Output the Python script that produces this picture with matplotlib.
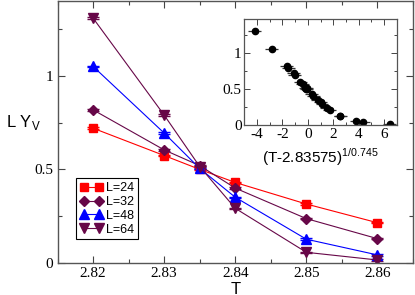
import numpy as np
import matplotlib
matplotlib.use("Agg")
import matplotlib.pyplot as plt
from matplotlib.ticker import MultipleLocator

## temperatures and the four system sizes
temps = [2.82, 2.83, 2.835, 2.84, 2.85, 2.86]
sizes = [24, 32, 48, 64]

## L*Y_v
y_24 = [0.72, 0.574, 0.500, 0.430, 0.315, 0.215]
y_32 = [0.818, 0.604, 0.520, 0.400, 0.237, 0.130]
y_48 = [1.050, 0.694, 0.505, 0.351, 0.127, 0.043]
y_64 = [1.308, 0.790, 0.515, 0.292, 0.057, 0.016]

## scaling parameters from the inset label
tc = 2.83575
nu = 0.745

labels = ["L=24", "L=32", "L=48", "L=64"]
series = [y_24, y_32, y_48, y_64]
colors = ["#ff0000", "#670748", "#0000ff", "#670748"]
markers = ["s", "D", "^", "v"]
msizes = [6, 5.5, 6.5, 6.5]

serif = "Liberation Serif"
sans = "Liberation Sans"

fig = plt.figure(figsize=(4.15, 2.95), dpi=100)
ax = fig.add_axes([0.1386, 0.1085, 0.8566, 0.8885])

for L, y, c, m, ms, lab in zip(sizes, series, colors, markers, msizes, labels):
   ax.errorbar(temps, y, yerr=0.004, color=c, ecolor=c, elinewidth=0.6,
               capsize=4, capthick=1.0, lw=0.8, marker=m, ms=ms,
               mec=c, mfc=c, label=lab)

ax.set_xlim(2.815, 2.865)
ax.set_ylim(0, 1.4)
ax.xaxis.set_minor_locator(MultipleLocator(0.005))
ax.yaxis.set_minor_locator(MultipleLocator(0.25))
ax.set_xticks([2.82, 2.83, 2.84, 2.85, 2.86])
ax.set_xticklabels(["2.82", "2.83", "2.84", "2.85", "2.86"])
ax.set_yticks([0, 0.5, 1])
ax.set_yticklabels(["0", "0.5", "1"])
ax.tick_params(which="both", direction="in", top=True, right=True,
               colors="#444444", labelcolor="black")
ax.tick_params(which="major", length=5, width=0.8, labelsize=11, pad=3)
ax.tick_params(which="minor", length=3, width=0.8)
for t in ax.get_xticklabels() + ax.get_yticklabels():
   t.set_family(serif)
for s in ax.spines.values():
   s.set_color("#555555")
   s.set_linewidth(1.0)

ax.set_xlabel("T", family=sans, fontsize=12, labelpad=1)
ax.set_ylabel(r"L Y$_\mathregular{V}$", family=sans, fontsize=12,
              rotation=0)
ax.yaxis.set_label_coords(-0.095, 0.5)

handles, labs = ax.get_legend_handles_labels()
handles = [h[0] for h in handles]
leg = ax.legend(handles, labs, loc="lower left", bbox_to_anchor=(0.052, 0.09),
                borderaxespad=0, numpoints=2, handlelength=1.8,
                handletextpad=0.3, labelspacing=0.15, borderpad=0.3,
                fancybox=False, framealpha=1, edgecolor="black",
                prop={"family": sans, "size": 9})
leg.get_frame().set_linewidth(0.8)

## inset with the scaling collapse
ins = fig.add_axes([0.5887, 0.5763, 0.3672, 0.3583])
for L, y in zip(sizes, series):
   x = (np.array(temps) - tc) * L ** (1.0 / nu)
   ins.errorbar(x, y, xerr=0.5, fmt="o", color="black", ms=4.5,
                ecolor="#333333", elinewidth=0.9, capsize=0)
ins.set_xlim(-5, 7)
ins.set_ylim(0, 1.47)
ins.xaxis.set_minor_locator(MultipleLocator(1))
ins.yaxis.set_minor_locator(MultipleLocator(0.25))
ins.set_xticks([-4, -2, 0, 2, 4, 6])
ins.set_xticklabels(["-4", "-2", "0", "2", "4", "6"])
ins.set_yticks([0, 0.5, 1])
ins.set_yticklabels(["0", "0.5", "1"])
ins.tick_params(which="both", direction="in", top=True, right=True,
                colors="#444444", labelcolor="black")
ins.tick_params(which="major", length=4, width=0.7, labelsize=11, pad=2)
ins.tick_params(which="minor", length=2.5, width=0.7)
for t in ins.get_xticklabels() + ins.get_yticklabels():
   t.set_family(serif)
for s in ins.spines.values():
   s.set_color("#555555")
   s.set_linewidth(0.9)
ins.set_xlabel(r"(T-2.83575)$^\mathregular{1/0.745}$", family=sans,
               fontsize=11, labelpad=4)

fig.savefig("out.png", dpi=100)
